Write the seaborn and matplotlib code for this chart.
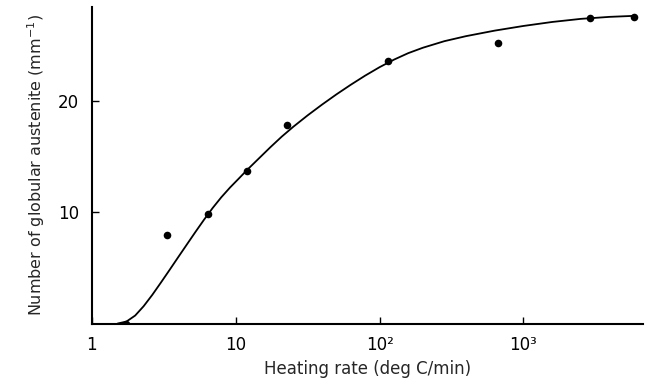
import matplotlib
matplotlib.use("Agg")
import matplotlib.pyplot as plt
import seaborn as sns
import pandas as pd

# Measured points (heating rate, deg C/min -> count per mm)
rate_points = [1.74, 3.34, 6.44, 11.9, 22.8, 115, 664, 2920, 5870]
count_points = [0.0, 8.0, 9.9, 13.7, 17.9, 23.65, 25.3, 27.55, 27.6]

# Fitted curve
rate_curve = [1.51, 1.74, 2.0, 2.29, 2.63, 3.02, 3.47, 3.98, 4.57, 5.25,
              6.03, 6.92, 7.94, 9.12, 10.5, 12.0, 14.5, 17.4, 20.9, 25.1,
              31.6, 39.8, 50.1, 63.1, 79.4, 100, 126, 158, 200, 282, 398,
              631, 1000, 1585, 2512, 3981, 5888]
count_curve = [0.0, 0.18, 0.72, 1.56, 2.58, 3.69, 4.83, 5.97, 7.11, 8.25,
               9.36, 10.41, 11.37, 12.24, 13.05, 13.83, 14.87, 15.87, 16.83,
               17.71, 18.74, 19.71, 20.63, 21.5, 22.32, 23.08, 23.76, 24.34,
               24.83, 25.42, 25.87, 26.37, 26.79, 27.15, 27.43, 27.61, 27.7]

x_ticks = [1, 10, 100, 1000]
x_tick_labels = ["1", "10", "10²", "10³"]
y_ticks = [10, 20]

points_df = pd.DataFrame({"rate": rate_points, "count": count_points})
curve_df = pd.DataFrame({"rate": rate_curve, "count": count_curve})

sns.set_style("ticks")
plt.rcParams["font.family"] = ["DejaVu Sans"]

fig = plt.figure(figsize=(6.47, 3.87), dpi=100)
ax = fig.add_axes([0.142, 0.164, 0.852, 0.818])

sns.lineplot(data=curve_df, x="rate", y="count", sort=False,
             color="black", linewidth=1.3, ax=ax)
sns.scatterplot(data=points_df, x="rate", y="count", color="black",
                s=30, edgecolor="black", linewidth=0, zorder=3, ax=ax)

ax.set_xscale("log")
ax.set_xlim(1, 6790)
ax.set_ylim(0, 28.5)

ax.set_xticks(x_ticks)
ax.set_xticklabels(x_tick_labels)
ax.minorticks_off()
ax.set_yticks(y_ticks)

ax.tick_params(axis="both", direction="in", length=5, width=1,
               labelsize=12, color="black", labelcolor="black")
ax.tick_params(axis="x", pad=9)
ax.tick_params(axis="y", pad=9)

for side in ["top", "right"]:
    ax.spines[side].set_visible(False)
for side in ["left", "bottom"]:
    ax.spines[side].set_linewidth(1.5)
    ax.spines[side].set_color("black")

ax.set_xlabel("Heating rate (deg C/min)", fontsize=12, labelpad=4)
ax.set_ylabel("Number of globular austenite (mm$^{-1}$)", fontsize=11.5,
              labelpad=8)

fig.savefig("out.png", dpi=100)
plt.close(fig)
